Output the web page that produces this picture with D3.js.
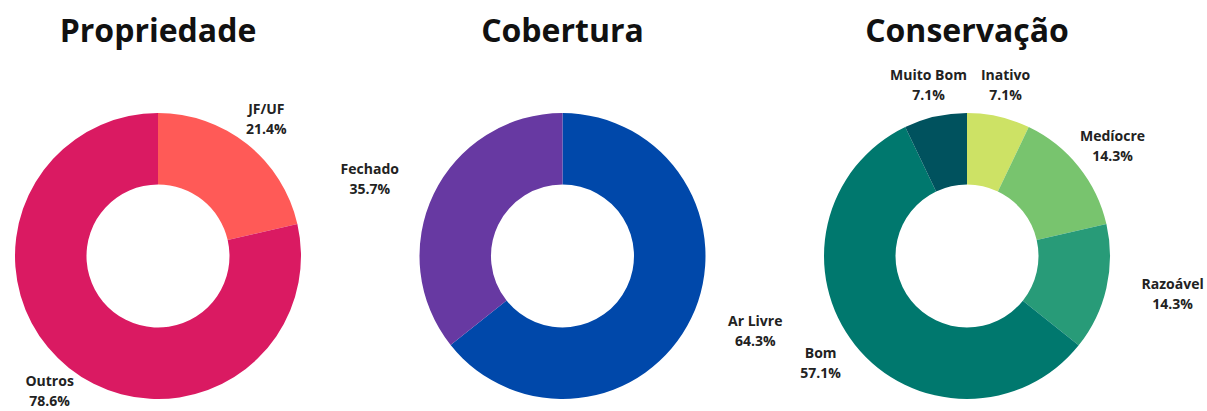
<!DOCTYPE html>
<html>
<head>
<meta charset="utf-8">
<script src="https://cdn.jsdelivr.net/npm/d3@7"></script>
<style>
  html, body { margin: 0; padding: 0; background: #fff; }
  svg { display: block; font-family: "Open Sans", "Noto Sans", sans-serif; }
</style>
</head>
<body>
<svg id="chart" width="1207" height="411"></svg>
<script>
// Chart titles
const titles = ["Propriedade", "Cobertura", "Conservação"];

// Propriedade
const propriedadeCats = ["JF/UF", "Outros"];
const propriedadeVals = [21.4, 78.6];
const propriedadeColors = ["#FF5A57", "#DA1A62"];

// Cobertura
const coberturaCats = ["Ar Livre", "Fechado"];
const coberturaVals = [64.3, 35.7];
const coberturaColors = ["#0048AA", "#6739A2"];

// Conservação
const conservacaoCats = ["Inativo", "Medíocre", "Razoável", "Bom", "Muito Bom"];
const conservacaoVals = [7.1, 14.3, 14.3, 57.1, 7.1];
const conservacaoColors = ["#CDE265", "#78C46E", "#289B78", "#00786E", "#00525E"];

const charts = [
  { title: titles[0], cats: propriedadeCats, vals: propriedadeVals, colors: propriedadeColors },
  { title: titles[1], cats: coberturaCats, vals: coberturaVals, colors: coberturaColors },
  { title: titles[2], cats: conservacaoCats, vals: conservacaoVals, colors: conservacaoColors }
];

const W = 1207;
const svg = d3.select("#chart");
const cxScale = d3.scalePoint().domain(titles).range([158, 967]);
const cy = 256;
const outerR = 143;
const innerR = 71.5;
const labelR = 174;

const pie = d3.pie().sort(null).value(d => d.v);
const arc = d3.arc().innerRadius(innerR).outerRadius(outerR);

// extra horizontal push for labels that sit near the left/right sides
function sidePush(s) {
  const t = Math.max(0, Math.min(1, (Math.abs(s) - 0.72) / 0.18));
  return Math.sign(s) * 36 * t * t * (3 - 2 * t);
}

charts.forEach(ch => {
  const cx = cxScale(ch.title);
  const g = svg.append("g").attr("transform", `translate(${cx},${cy})`);

  svg.append("text")
    .attr("x", cx)
    .attr("y", 42)
    .attr("text-anchor", "middle")
    .attr("font-size", 32)
    .attr("font-weight", 700)
    .attr("fill", "#111")
    .text(ch.title);

  const data = ch.cats.map((c, i) => ({ c, v: ch.vals[i], col: ch.colors[i] }));
  const arcs = pie(data);

  g.selectAll("path")
    .data(arcs)
    .join("path")
    .attr("d", arc)
    .attr("fill", d => d.data.col);

  const lab = g.selectAll("g.lab")
    .data(arcs)
    .join("g")
    .attr("class", "lab");

  lab.append("text")
    .attr("y", -6)
    .attr("text-anchor", "middle")
    .attr("font-size", 14)
    .attr("font-weight", 700)
    .attr("fill", "#222")
    .text(d => d.data.c);

  lab.append("text")
    .attr("y", 14)
    .attr("text-anchor", "middle")
    .attr("font-size", 14)
    .attr("font-weight", 700)
    .attr("fill", "#222")
    .text(d => d.data.v.toFixed(1) + "%");

  // place each label at the slice's mid-angle, kept inside the drawing area
  lab.attr("transform", function(d) {
    const a = (d.startAngle + d.endAngle) / 2;
    const s = Math.sin(a);
    let x = labelR * s + sidePush(s);
    const y = -labelR * Math.cos(a);
    const half = this.getBBox().width / 2;
    x = Math.min(x, W - 2 - half - cx);
    x = Math.max(x, 2 + half - cx);
    return `translate(${x},${y})`;
  });
});
</script>
</body>
</html>
